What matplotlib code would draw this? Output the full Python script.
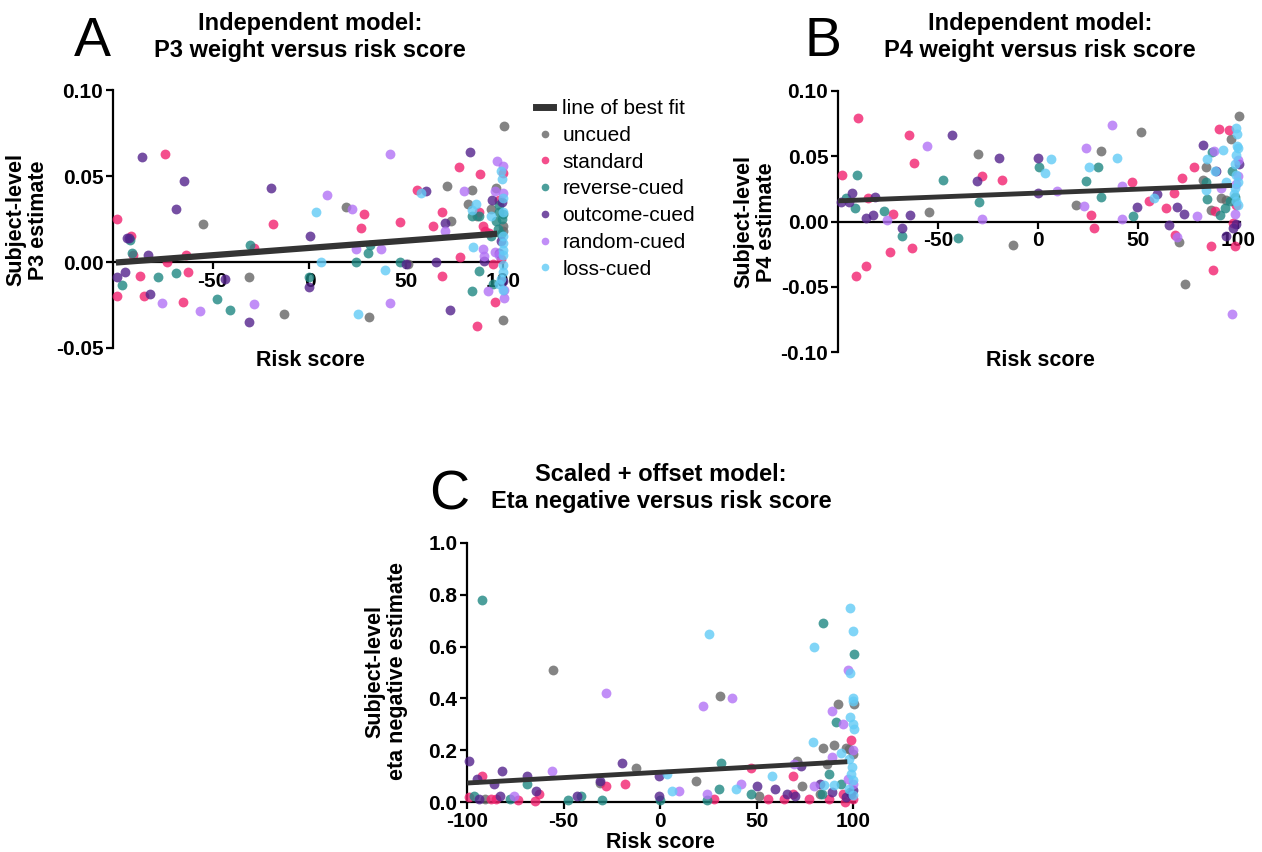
import numpy as np
import matplotlib
matplotlib.use("Agg")
import matplotlib.pyplot as plt
from matplotlib.lines import Line2D

plt.rcParams['font.family'] = ['Liberation Sans', 'DejaVu Sans']

# groups in legend order
groups = ["uncued", "standard", "reverse-cued", "outcome-cued", "random-cued", "loss-cued"]
colors = ["#666666", "#f2226f", "#1f8782", "#54238c", "#b272f5", "#62cbf6"]

# ---------------- Panel A: P3 weight ----------------
A_x = {
    "uncued": [-55, -31, -13, 19, 31, 51, 71, 73, 84, 82, 86.7, 94, 96.4, 100, 100, 100, 100.5],
    "standard": [-99.3, -99.3, -92, -91, -87.4, -85.4, -74.7, -73.5, -65.3, -64, -63, -28.5, -18.7, 26.5, 28.3,
                 47, 55.5, 64, 68.3, 68.5, 77, 78, 86.7, 88, 87.6, 89.5, 90.5, 93, 95, 96, 98, 100, 99],
    "reverse-cued": [-97, -92.5, -91.5, -78, -69, -48, -41, -30.6, 0, 23.8, 30, 31.3, 47, 84, 84, 87.5, 87.7,
                     94, 95, 96.4, 98, 99.4, 100, 98, 99, 97.5],
    "outcome-cued": [-99.3, -95.4, -94.3, -93, -86.5, -83.6, -82.6, -69.2, -64.8, -43.8, -31.3, -19.8, 0.5, -0.2,
                     49.8, 60, 65.3, 70.1, 72.8, 82.7, 94.3, 99, 90.3, 100, 99.5, 98],
    "random-cued": [-76, -56.6, -28.6, 9.3, 22.2, 24, 36.8, 41.8, 41.8, 69.8, 80, 89.5, 90.3, 92, 95.6, 97,
                    100, 100, 100.5, 100.5, 98, 96],
    "loss-cued": [3.6, 6.2, 25.3, 39, 57.6, 84.5, 84.2, 93.8, 99, 99.3, 86, 100, 100, 100, 100, 100, 100, 99,
                  98, 100, 100, 100],
}
A_y = {
    "uncued": [0.022, -0.009, -0.030, 0.032, -0.032, -0.001, 0.044, 0.024, 0.042, 0.034, 0.027, 0.031, 0.043,
               0.021, 0.018, -0.034, 0.079],
    "standard": [0.025, -0.020, 0.015, 0.004, -0.008, -0.020, 0.063, 0.000, -0.023, 0.004, -0.006, 0.008, 0.022,
                 0.020, 0.028, 0.023, 0.042, 0.021, 0.029, -0.008, 0.055, 0.003, -0.037, 0.051, 0.029, 0.021,
                 0.018, 0.017, -0.001, -0.023, 0.036, 0.052, 0.002],
    "reverse-cued": [-0.0135, 0.013, 0.005, -0.009, -0.0065, -0.0215, -0.028, 0.010, -0.009, 0.000, 0.005,
                     0.010, 0.000, 0.027, -0.017, -0.005, 0.027, 0.015, -0.0125, 0.024, 0.029, 0.025, 0.028,
                     0.033, 0.0165, 0.019],
    "outcome-cued": [-0.0087, -0.0058, 0.014, 0.014, 0.061, 0.004, -0.0187, 0.031, 0.047, -0.010, -0.0346,
                     0.043, 0.015, -0.0146, -0.001, 0.041, 0.000, 0.0225, -0.0277, 0.064, 0.036, 0.012, 0.0005,
                     -0.011, 0.035, 0.005],
    "random-cued": [-0.0237, -0.0285, -0.0246, 0.039, 0.031, 0.0073, 0.0073, 0.063, -0.0237, 0.018, 0.041,
                    0.0074, 0.0035, -0.0168, 0.041, 0.059, 0.056, 0.040, -0.016, -0.021, 0.004, 0.006],
    "loss-cued": [0.029, 0.000, -0.030, -0.0048, 0.040, 0.0087, 0.0305, 0.027, 0.053, 0.048, 0.034, 0.015,
                  0.011, 0.007, 0.004, -0.0015, -0.006, -0.010, -0.013, -0.016, 0.037, 0.029],
}
A_fit = (8.5e-5, 0.0082)   # slope, intercept

# ---------------- Panel B: P4 weight ----------------
B_x = {
    "uncued": [-54.6, -30.2, -12.3, 18.9, 31.3, 51.5, 70.4, 73.5, 84, 82.3, 86.5, 91.5, 93.8, 96.6, 100.3],
    "standard": [-98, -90, -91.2, -86.1, -85, -74, -72.6, -64.4, -63, -62.2, -27.9, -18, 26.5, 28.2, 46.8,
                 55.7, 64, 68, 68.4, 72, 78, 86.5, 87.7, 88.7, 90.7, 95.4, 98.3, 97.5, 99],
    "reverse-cued": [-96, -91.4, -90.4, -77, -68.2, -47.5, -40.2, -29.7, 0.3, 24.2, 30.2, 31.6, 47.3, 84, 84.5,
                     87, 91, 93.4, 95.8, 97, 98.3],
    "outcome-cued": [-98.5, -94.3, -92.9, -85.8, -82.4, -81.6, -68.2, -63.9, -43, -30.7, -19.4, -0.2, -0.2,
                     49.7, 59.6, 65.4, 69.6, 73, 82.6, 89, 93.8, 97.5, 99, 100.5],
    "random-cued": [-75.3, -55.4, -27.9, 9.6, 22.8, 24.2, 37.2, 42, 42, 69.6, 79.6, 88.2, 91.5, 97.1, 98.6,
                    100, 99, 100],
    "loss-cued": [3.7, 6.6, 25.3, 39.4, 57.8, 84.3, 84, 92.7, 88.5, 94, 99, 99.5, 99.5, 100, 99, 98.5, 99, 100,
                  98.5, 98, 99, 100],
}
B_y = {
    "uncued": [0.007, 0.0515, -0.018, 0.013, 0.054, 0.0686, -0.016, -0.048, 0.042, 0.0316, 0.0087, 0.018,
               0.0163, 0.063, 0.081],
    "standard": [0.036, 0.079, -0.042, -0.034, 0.018, -0.023, 0.006, 0.066, -0.020, 0.045, 0.035, 0.032, 0.005,
                 -0.005, 0.030, 0.016, 0.010, 0.022, -0.0105, 0.033, 0.042, -0.019, -0.037, 0.008, 0.071, 0.070,
                 -0.019, -0.001, 0.0125],
    "reverse-cued": [0.018, 0.010, 0.036, 0.008, -0.011, 0.032, -0.013, 0.015, 0.042, 0.031, 0.042, 0.019,
                     0.004, 0.030, 0.017, 0.053, 0.005, 0.010, 0.016, 0.039, 0.019],
    "outcome-cued": [0.0148, 0.0148, 0.022, 0.003, 0.005, 0.019, -0.005, 0.005, 0.066, 0.031, 0.049, 0.049,
                     0.022, 0.011, 0.021, -0.003, 0.011, 0.006, 0.059, 0.039, -0.011, -0.005, -0.002, 0.044],
    "random-cued": [0.001, 0.058, 0.002, 0.023, 0.012, 0.056, 0.074, 0.027, 0.002, -0.012, 0.004, 0.054, 0.026,
                    -0.071, 0.006, 0.047, 0.029, 0.035],
    "loss-cued": [0.037, 0.048, 0.042, 0.049, 0.018, 0.048, 0.024, 0.055, 0.039, 0.030, 0.072, 0.067, 0.058,
                  0.056, 0.051, 0.044, 0.036, 0.030, 0.026, 0.021, 0.016, 0.013],
}
B_fit = (6.0e-5, 0.0218)

# ---------------- Panel C: eta negative ----------------
C_x = {
    "uncued": [-55.4, -30.9, -12.5, 18.8, 31.3, 51.4, 70.9, 73.6, 84.3, 83, 86.6, 90, 92.3, 96.4, 100.5, 100,
               -90.7, 98],
    "standard": [-99, -92, -87.5, -84.8, -73.6, -64.8, -62.5, -28.2, -18.2, 28, 47, 55.9, 64.3, 68.8, 68.8, 77,
                 87.5, 98.8, 95.9, 100, 94.6],
    "reverse-cued": [-92.3, -96.4, -77.7, -68.75, -47.9, -40.7, -30, 0, 24.1, 30.4, 31.6, 47.3, 84.6, 91.4,
                     87.5, 84, 100.5, 93.75, 98.2],
    "outcome-cued": [-99, -94.6, -93.75, -86.25, -83, -82, -68.75, -64.3, -43.2, -30.9, -19.6, -0.4, -0.4, 50,
                     59.8, 65.7, 70, 72.9, 83, 89.3, 96.4, 99, 100],
    "random-cued": [-75.9, -56, -28.2, 9.8, 22.3, 24.1, 37.1, 42, 69.3, 80, 88.9, 89.3, 94.6, 97.3, 100, 100,
                    97.3],
    "loss-cued": [25.4, 3.6, 6.25, 39.3, 58, 79, 80, 84.8, 90.2, 93.75, 98.2, 100, 98.6, 100, 100, 98.2, 100,
                  100.5, 97.9, 99.6, 99, 100, 98, 100],
}
C_y = {
    "uncued": [0.51, 0.074, 0.13, 0.081, 0.41, 0.022, 0.16, 0.063, 0.21, 0.032, 0.148, 0.22, 0.38, 0.21, 0.38,
               0.187, 0.013, 0.206],
    "standard": [0.019, 0.10, 0.013, 0.013, 0.009, 0.004, 0.03, 0.061, 0.07, 0.01, 0.13, 0.01, 0.01, 0.10,
                 0.032, 0.01, 0.01, 0.24, 0.0, 0.013, 0.032],
    "reverse-cued": [0.78, 0.022, 0.013, 0.071, 0.009, 0.022, 0.009, 0.006, 0.009, 0.05, 0.15, 0.032, 0.69,
                     0.31, 0.11, 0.032, 0.57, 0.071, 0.039],
    "outcome-cued": [0.16, 0.09, 0.01, 0.071, 0.023, 0.12, 0.10, 0.043, 0.022, 0.081, 0.151, 0.10, 0.022, 0.063,
                     0.052, 0.032, 0.022, 0.14, 0.071, 0.039, 0.019, 0.032, 0.045],
    "random-cued": [0.022, 0.121, 0.42, 0.041, 0.37, 0.032, 0.40, 0.071, 0.148, 0.063, 0.352, 0.172, 0.30, 0.51,
                    0.20, 0.071, 0.09],
    "loss-cued": [0.65, 0.11, 0.041, 0.052, 0.10, 0.232, 0.60, 0.065, 0.065, 0.19, 0.75, 0.66, 0.50, 0.40,
                  0.39, 0.33, 0.30, 0.28, 0.166, 0.135, 0.11, 0.084, 0.052, 0.026],
}
C_fit = (4.17e-4, 0.115)

W, H = 1262, 852
fig = plt.figure(figsize=(W / 100, H / 100), dpi=100)


def px_axes(left, top, right, bottom):
    return fig.add_axes([left / W, 1 - bottom / H, (right - left) / W, (bottom - top) / H])


def draw_panel(ax, xs, ys, fit, lw):
    for g, c in zip(groups, colors):
        ax.scatter(xs[g], ys[g], s=50, color=c, alpha=0.8, linewidths=0, zorder=3, clip_on=False)
    fx = np.array([-100, 97])
    ax.plot(fx, fit[0] * fx + fit[1], color="#333333", lw=lw, zorder=4, solid_capstyle="butt")
    for s in ["top", "right"]:
        ax.spines[s].set_visible(False)
    for s in ["left", "bottom"]:
        ax.spines[s].set_linewidth(1.6)
        ax.spines[s].set_color("black")
    ax.tick_params(width=1.6, length=5, labelsize=15, pad=2)
    for lab in ax.get_xticklabels() + ax.get_yticklabels():
        lab.set_fontweight("bold")


# A
axA = px_axes(113, 90, 504, 348)
axA.set_xlim(-101.5, 100.5)
axA.set_ylim(-0.05, 0.10)
axA.set_xticks([-50, 0, 50, 100])
axA.set_yticks([-0.05, 0.0, 0.05, 0.10])
axA.set_yticklabels(["-0.05", "0.00", "0.05", "0.10"])
axA.set_xticklabels(["-50", "0", "50", "100"])
axA.spines["bottom"].set_position(("data", 0))
draw_panel(axA, A_x, A_y, A_fit, 4.5)

# B
axB = px_axes(838, 91, 1240, 352)
axB.set_xlim(-100, 101)
axB.set_ylim(-0.10, 0.10)
axB.set_xticks([-50, 0, 50, 100])
axB.set_yticks([-0.10, -0.05, 0.0, 0.05, 0.10])
axB.set_yticklabels(["-0.10", "-0.05", "0.00", "0.05", "0.10"])
axB.set_xticklabels(["-50", "0", "50", "100"])
axB.spines["bottom"].set_position(("data", 0))
draw_panel(axB, B_x, B_y, B_fit, 3.5)

# C
axC = px_axes(467, 543, 855, 802)
axC.set_xlim(-100, 101)
axC.set_ylim(0, 1.0)
axC.set_xticks([-100, -50, 0, 50, 100])
axC.set_yticks([0, 0.2, 0.4, 0.6, 0.8, 1.0])
axC.set_yticklabels(["0.0", "0.2", "0.4", "0.6", "0.8", "1.0"])
axC.set_xticklabels(["-100", "-50", "0", "50", "100"])
draw_panel(axC, C_x, C_y, C_fit, 3.5)

# titles, letters, labels
tkw = dict(ha="center", va="center", fontsize=17, fontweight="bold", linespacing=1.17)
fig.text(92 / W, 1 - 42 / H, "A", ha="center", va="center", fontsize=40)
fig.text(310 / W, 1 - 37 / H, "Independent model:\nP3 weight versus risk score", **tkw)
fig.text(823 / W, 1 - 42 / H, "B", ha="center", va="center", fontsize=40)
fig.text(1040 / W, 1 - 37 / H, "Independent model:\nP4 weight versus risk score", **tkw)
fig.text(449 / W, 1 - 496 / H, "C", ha="center", va="center", fontsize=40)
fig.text(661 / W, 1 - 488 / H, "Scaled + offset model:\nEta negative versus risk score", **tkw)

lkw = dict(ha="center", va="center", fontsize=15.5, fontweight="bold", linespacing=1.1)
fig.text(27 / W, 1 - 220 / H, "Subject-level\nP3 estimate", rotation=90, **lkw)
fig.text(310 / W, 1 - 360 / H, "Risk score", **lkw)
fig.text(755 / W, 1 - 222 / H, "Subject-level\nP4 estimate", rotation=90, **lkw)
fig.text(1040 / W, 1 - 360 / H, "Risk score", **lkw)
fig.text(386 / W, 1 - 671 / H, "Subject-level\neta negative estimate", rotation=90, **lkw)
fig.text(660 / W, 1 - 843 / H, "Risk score", **lkw)

# legend
handles = [Line2D([], [], color="#333333", lw=5)]
handles += [Line2D([], [], ls="none", marker="o", markersize=5.5, color=c, alpha=0.8, markeredgewidth=0)
            for c in colors]
fig.legend(handles, ["line of best fit"] + groups, loc="upper left",
           bbox_to_anchor=(528 / W, 1 - 91 / H), frameon=False, fontsize=15,
           handlelength=0.8, handletextpad=0.45, labelspacing=0.37, borderaxespad=0)

fig.savefig("out.png", dpi=100)
